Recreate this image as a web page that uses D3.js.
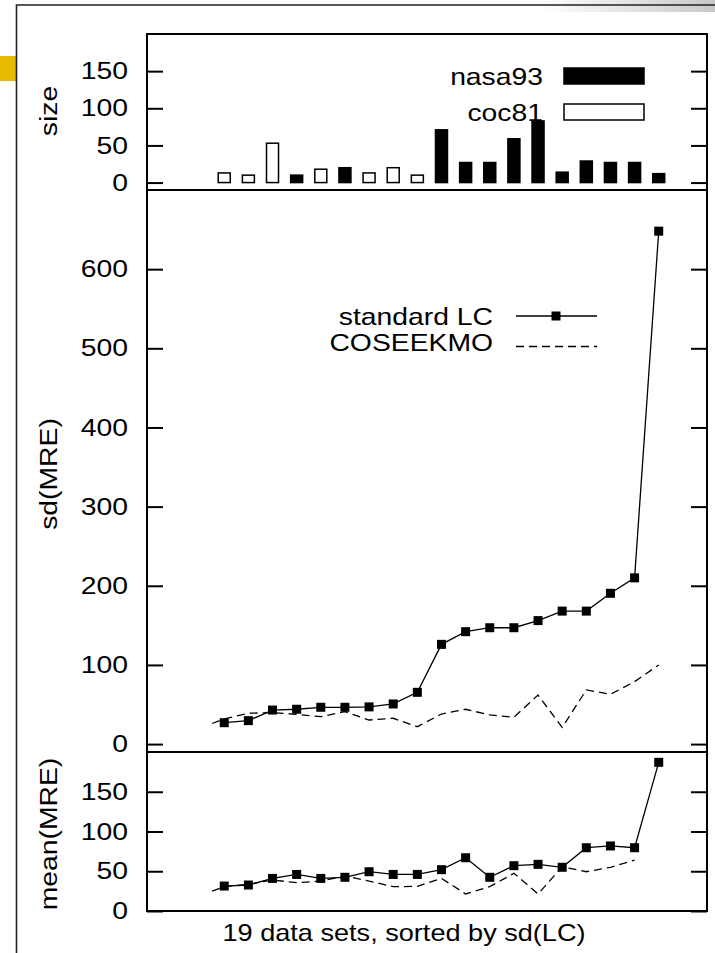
<!DOCTYPE html>
<html>
<head>
<meta charset="utf-8">
<script src="https://cdn.jsdelivr.net/npm/d3@7"></script>
<style>
	html, body { margin: 0; padding: 0; background: #fff; }
	svg { display: block; }
	text { font-family: "Liberation Sans", Arial, Helvetica, sans-serif; fill: #000; }
</style>
</head>
<body>
<svg id="chart"></svg>
<script>
// 19 data sets, sorted by sd(LC)
const datasets = [1, 2, 3, 4, 5, 6, 7, 8, 9, 10, 11, 12, 13, 14, 15, 16, 17, 18, 19];
const source = ['coc81', 'coc81', 'coc81', 'nasa93', 'coc81', 'nasa93', 'coc81', 'coc81', 'coc81', 'nasa93',
	'nasa93', 'nasa93', 'nasa93', 'nasa93', 'nasa93', 'nasa93', 'nasa93', 'nasa93', 'nasa93'];
const sizes = [13, 10, 53, 10, 18, 20, 13, 20, 10, 71, 27, 27, 59, 83, 14, 29, 27, 27, 12];

const sdLC = [27, 29.6, 43, 44, 46.5, 46.5, 47, 50.7, 65.4, 126, 142, 147, 147, 156, 168, 168, 190.5, 210, 648];
const meanLC = [31.4, 32.7, 41, 46, 41, 42.4, 49.4, 46, 46, 52, 67, 42.4, 57, 58.7, 55, 79.6, 81.8, 79.6, 187];

// the COSEEKMO line starts half a step before the first data set
const cosX = [0.5, 1, 2, 3, 4, 5, 6, 7, 8, 9, 10, 11, 12, 13, 14, 15, 16, 17, 18, 19];
const sdCOS = [26, 31.7, 39, 39.7, 37.6, 34.6, 41, 30.4, 32.6, 22, 38, 44, 36.8, 33.8, 62, 21, 68.4, 62.9, 78.8, 100];
const meanCOS = [25, 30.6, 33.5, 39, 35.6, 37.7, 44, 37.7, 30.6, 31, 41, 21.4, 30.6, 47.4, 21.4, 55.7, 49.4, 55, 64];

const sizeTicks = [0, 50, 100, 150];
const sdTicks = [0, 100, 200, 300, 400, 500, 600];
const meanTicks = [0, 50, 100, 150];

const config = {
	left: 147,
	right: 707,
	fontSize: 24,
	stretch: 1.18,
	tick: 16,
	dash: '8,5'
};

const svg = d3.select('#chart').attr('width', 715).attr('height', 953);

// slide decoration
const grad = svg.append('defs').append('linearGradient').attr('id', 'topgray')
	.attr('x1', 0).attr('x2', 1).attr('y1', 0).attr('y2', 0);
grad.append('stop').attr('offset', '0').attr('stop-color', '#fff');
grad.append('stop').attr('offset', '1').attr('stop-color', '#c8c8c8');
svg.append('rect').attr('x', 540).attr('y', 0).attr('width', 175).attr('height', 12).attr('fill', 'url(#topgray)');
svg.append('rect').attr('x', 0).attr('y', 56).attr('width', 17).attr('height', 25).attr('fill', '#e9b800');
svg.append('path').attr('d', 'M16.5,953V5H715').attr('fill', 'none').attr('stroke', '#222').attr('stroke-width', 1.6);

const x = d3.scaleLinear().domain([-2.2, 21]).range([config.left, config.right]);
const ySize = d3.scaleLinear().domain([-10, 200]).range([190, 34]);
const ySd = d3.scaleLinear().domain([-10, 700]).range([752, 190]);
const yMean = d3.scaleLinear().domain([0, 200]).range([911, 752]);

function drawAxes(y, ticks, title, titleY) {
	const [y1, y0] = y.range();
	svg.append('g')
		.attr('transform', `translate(${config.left},0)`)
		.call(d3.axisLeft(y).tickValues(ticks).tickSizeInner(-config.tick).tickSizeOuter(0).tickPadding(19))
		.attr('font-family', null).attr('font-size', config.fontSize)
		.call(g => g.select('.domain').remove())
		.call(g => g.selectAll('line').attr('stroke', '#000').attr('stroke-width', 2))
		.call(g => g.selectAll('text').attr('fill', '#000')
			.attr('x', -19 / config.stretch).attr('transform', `scale(${config.stretch},1)`));

	svg.append('g')
		.attr('transform', `translate(${config.right},0)`)
		.call(d3.axisRight(y).tickValues(ticks).tickSizeInner(-config.tick).tickSizeOuter(0).tickFormat(''))
		.call(g => g.select('.domain').remove())
		.call(g => g.selectAll('line').attr('stroke', '#000').attr('stroke-width', 2));

	svg.append('rect')
		.attr('x', config.left).attr('y', y0)
		.attr('width', config.right - config.left).attr('height', y1 - y0)
		.attr('fill', 'none').attr('stroke', '#000').attr('stroke-width', 2);

	svg.append('text')
		.attr('transform', `translate(57,${titleY}) rotate(-90) scale(${config.stretch},1)`)
		.attr('text-anchor', 'middle')
		.attr('font-size', config.fontSize)
		.text(title);
}

function drawLines(y, lc, cos) {
	const line = d3.line().x(d => x(d[0])).y(d => y(d[1]));
	svg.append('path')
		.datum(cosX.map((c, i) => [c, cos[i]]))
		.attr('d', line)
		.attr('fill', 'none').attr('stroke', '#000').attr('stroke-width', 1.3)
		.attr('stroke-dasharray', config.dash);
	svg.append('path')
		.datum(datasets.map((c, i) => [c, lc[i]]))
		.attr('d', line)
		.attr('fill', 'none').attr('stroke', '#000').attr('stroke-width', 1.3);
	svg.append('g')
		.selectAll('rect')
		.data(datasets.map((c, i) => [c, lc[i]]))
		.enter()
		.append('rect')
		.attr('x', d => x(d[0]) - 4.5).attr('y', d => y(d[1]) - 4.5)
		.attr('width', 9).attr('height', 9)
		.attr('fill', '#000');
}

// top: data set sizes
svg.append('g')
	.selectAll('rect')
	.data(datasets.map((c, i) => ({ c, v: sizes[i], s: source[i] })))
	.enter()
	.append('rect')
	.attr('x', d => x(d.c) - 6).attr('width', 12)
	.attr('y', d => ySize(d.v)).attr('height', d => ySize(0) - ySize(d.v))
	.attr('fill', d => d.s === 'nasa93' ? '#000' : '#fff')
	.attr('stroke', '#000').attr('stroke-width', 1.5);
drawAxes(ySize, sizeTicks, 'size', 111);

// legend, top panel
[['nasa93', '#000', 76], ['coc81', '#fff', 112]].forEach(([name, fill, cy]) => {
	svg.append('text')
		.attr('transform', `translate(543,${cy + 9}) scale(${config.stretch},1)`)
		.attr('text-anchor', 'end').attr('font-size', config.fontSize).text(name);
	svg.append('rect').attr('x', 564).attr('y', cy - 8).attr('width', 80).attr('height', 16)
		.attr('fill', fill).attr('stroke', '#000').attr('stroke-width', 1.5);
});

// middle: sd(MRE)
drawAxes(ySd, sdTicks, 'sd(MRE)', 474);
drawLines(ySd, sdLC, sdCOS);

svg.append('text')
	.attr('transform', `translate(493,325) scale(${config.stretch},1)`)
	.attr('text-anchor', 'end').attr('font-size', config.fontSize).text('standard LC');
svg.append('line').attr('x1', 516).attr('x2', 597).attr('y1', 316).attr('y2', 316)
	.attr('stroke', '#000').attr('stroke-width', 1.3);
svg.append('rect').attr('x', 551.5).attr('y', 311.5).attr('width', 9).attr('height', 9).attr('fill', '#000');
svg.append('text')
	.attr('transform', `translate(493,351) scale(${config.stretch},1)`)
	.attr('text-anchor', 'end').attr('font-size', config.fontSize).text('COSEEKMO');
svg.append('line').attr('x1', 516).attr('x2', 597).attr('y1', 346.5).attr('y2', 346.5)
	.attr('stroke', '#000').attr('stroke-width', 1.3).attr('stroke-dasharray', config.dash);

// bottom: mean(MRE)
drawAxes(yMean, meanTicks, 'mean(MRE)', 834);
drawLines(yMean, meanLC, meanCOS);

svg.append('text')
	.attr('transform', 'translate(404,941) scale(1.13,1)')
	.attr('text-anchor', 'middle').attr('font-size', config.fontSize)
	.text('19 data sets, sorted by sd(LC)');
</script>
</body>
</html>
